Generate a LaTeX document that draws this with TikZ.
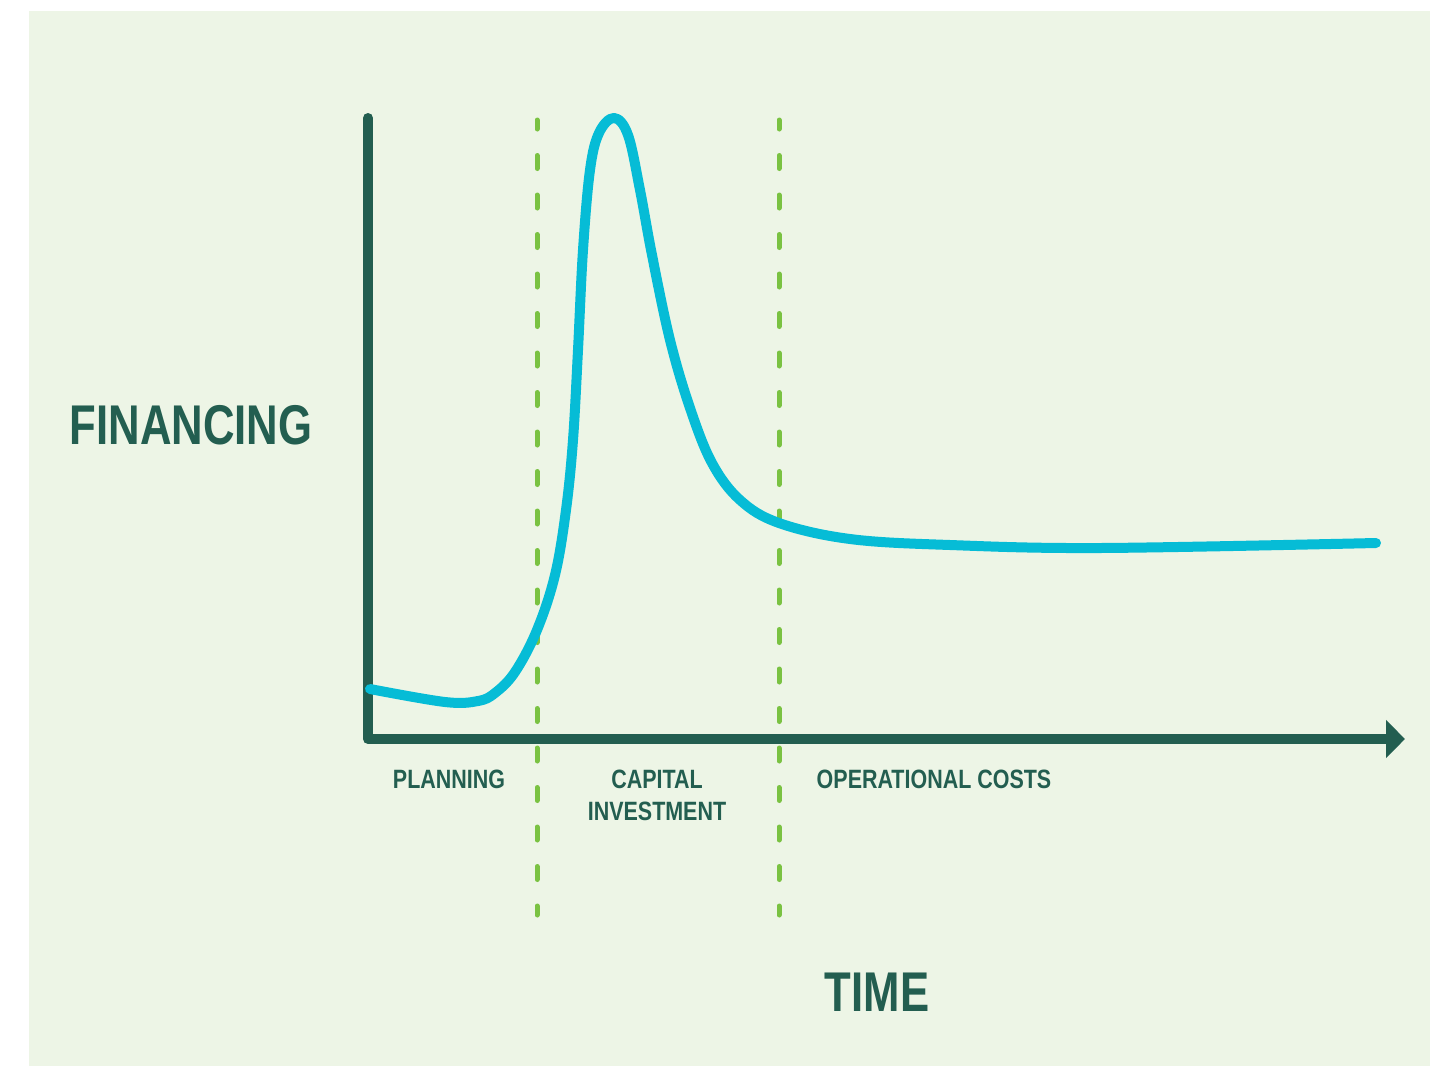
\documentclass[tikz,border=0pt]{standalone}
\usepackage{fontspec}
\setmainfont{Liberation Sans}[FakeStretch=0.78]
\newfontfamily\smallfam{Liberation Sans}[FakeStretch=0.81]
\usetikzlibrary{arrows.meta}
\definecolor{bg}{RGB}{237,245,230}
\definecolor{axisgreen}{RGB}{35,94,80}
\definecolor{curvecyan}{RGB}{6,188,214}
\definecolor{dashgreen}{RGB}{122,194,66}
\tikzset{
  axisline/.style={draw=axisgreen, line width=10pt, line cap=round, line join=round},
  phaseline/.style={draw=dashgreen, line width=5pt, line cap=round, dash pattern=on 13pt off 26.5pt, dash phase=4pt},
  costcurve/.style={draw=curvecyan, line width=10pt, line cap=round, line join=round},
  smalllab/.style={text=axisgreen, font=\smallfam\bfseries\fontsize{26.5}{32}\selectfont, inner sep=0pt, align=center},
  biglab/.style={text=axisgreen, font=\bfseries\fontsize{56}{60}\selectfont, inner sep=0pt}
}
\begin{document}
\begin{tikzpicture}[x=1pt,y=-1pt]
\useasboundingbox (0,0) rectangle (1430,1066);
\fill[bg] (29,11) rectangle (1430,1066);
% coordinates
\coordinate (ytop) at (368,118);
\coordinate (origin) at (368,739);
\coordinate (xend) at (1405,739);
\coordinate (d1top) at (537,120);
\coordinate (d1bot) at (537,915);
\coordinate (d2top) at (779,120);
\coordinate (d2bot) at (779,915);
% phase lines
\draw[phaseline] (d1top) -- (d1bot);
\draw[phaseline] (d2top) -- (d2bot);
% axes
\draw[axisline, -{Triangle[length=19pt,width=37pt]}] (ytop) -- (origin) -- (xend);
% curve
\draw[costcurve] plot[smooth, tension=0.6] coordinates {
 (370,689) (445,702) (478,701) (495,693) (515,672) (537,630) (555,575)
 (566,510) (573,440) (578,350) (583,250) (590,170) (599,133) (614,118)
 (628,135) (640,190) (652,255) (670,340) (690,408) (712,463) (740,500)
 (779,523) (850,539) (950,545) (1100,548) (1376,543)};
% labels
\node[smalllab] (planning) at (449,779.5) {PLANNING};
\node[smalllab] (capital) at (657,795.5) {CAPITAL\\INVESTMENT};
\node[smalllab] (operational) at (934,779.5) {OPERATIONAL COSTS};
\node[biglab] (financing) at (191,425) {FINANCING};
\node[biglab] (time) at (877,992) {TIME};
\end{tikzpicture}
\end{document}
